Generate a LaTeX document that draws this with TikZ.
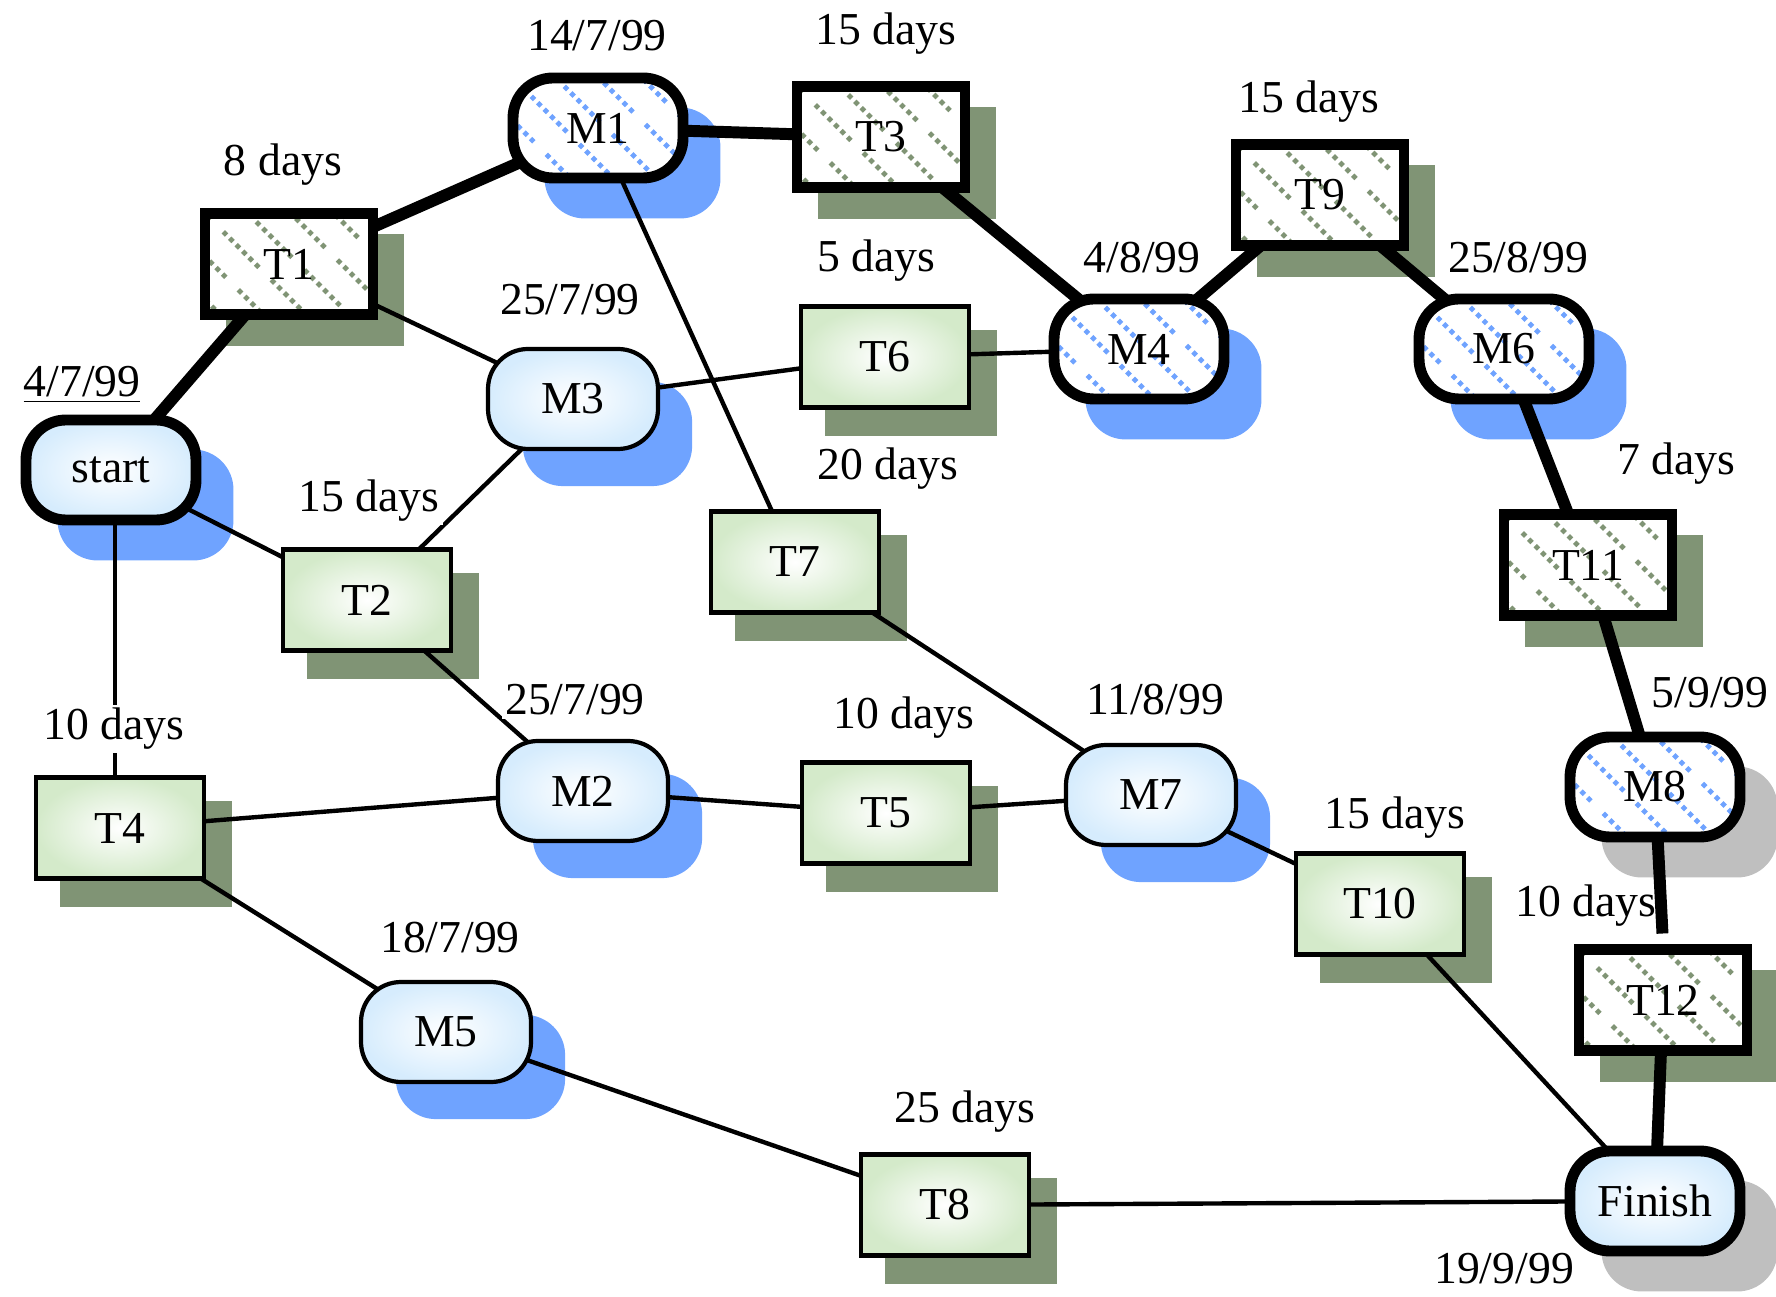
\documentclass[tikz,border=0pt]{standalone}
\usepackage{fontspec}
\setmainfont{Liberation Serif}
\definecolor{shadowblue}{RGB}{111,163,255}
\definecolor{shadowgreen}{RGB}{128,148,117}
\definecolor{shadowgray}{RGB}{191,191,191}
\definecolor{mileblue}{RGB}{214,236,253}
\definecolor{taskgreen}{RGB}{212,234,202}
\pgfdeclarelayer{background}
\pgfsetlayers{background,main}
\begin{document}
\begin{tikzpicture}[font=\fontsize{13}{15}\selectfont,
    box/.style={draw, line width=1.2pt, minimum width=1.68cm, minimum height=1.01cm, inner sep=0pt},
    rbox/.style={box, minimum width=1.70cm, minimum height=1.0cm, rounded corners=0.4cm},
    hatch/.style={fill=white, line width=3.1pt, path picture={
        \foreach \k in {-3,...,4}
          \draw[#1, line width=1.35pt, dash phase={(\k+3)*4pt},
            dash pattern=on 1.35pt off 1.25pt on 1.35pt off 1.25pt on 1.35pt off 1.25pt on 1.35pt off 1.25pt on 1.35pt off 1.25pt on 1.35pt off 5pt]
            ([xshift=\k*0.43cm]path picture bounding box.north west) -- ++(1.3,-1.3);}},
    task/.style={box, inner color=white, outer color=taskgreen},
    mile/.style={rbox, inner color=white, outer color=mileblue},
    ctask/.style={box, hatch=shadowgreen},
    cmile/.style={rbox, hatch=shadowblue},
    lab/.style={inner sep=1pt, fill=white},
    link/.style={line width=1.25pt},
    cpath/.style={line width=3.4pt}]
\useasboundingbox (0,0) rectangle (17.76,12.96);

\foreach \n/\x/\y in {T2/3.67/6.96, T4/1.20/4.68, T5/8.86/4.83, T6/8.85/9.39, T7/7.95/7.34, T8/9.45/0.91, T10/13.80/3.92}
  \node[task] (\n) at (\x,\y) {\n};
\foreach \n/\x/\y in {T1/2.89/10.32, T3/8.81/11.59, T9/13.20/11.01, T11/15.88/7.31, T12/16.63/2.96}
  \node[ctask] (\n) at (\x,\y) {\n};
\foreach \n/\x/\y in {M2/5.83/5.05, M3/5.73/8.97, M5/4.46/2.64, M7/11.51/5.01}
  \node[mile] (\n) at (\x,\y) {\n};
\foreach \n/\x/\y in {M1/5.98/11.68, M4/11.39/9.47, M6/15.04/9.47, M8/16.55/5.09}
  \node[cmile] (\n) at (\x,\y) {\n};
\node[mile, line width=3.1pt] (start) at (1.11,8.26) {start};
\node[mile, line width=3.1pt] (Finish) at (16.55,0.95) {Finish};

\node[lab] (dateM1) at (5.97,12.60) {14/7/99};
\node[lab] (dateM3) at (5.70,9.96) {25/7/99};
\node[lab] (dateM4) at (11.42,10.38) {4/8/99};
\node[lab] (dateM6) at (15.18,10.38) {25/8/99};
\node[lab] (dateM2) at (5.75,5.96) {25/7/99};
\node[lab] (dateM7) at (11.55,5.96) {11/8/99};
\node[lab] (dateM8) at (17.10,6.03) {5/9/99};
\node[lab] (dateM5) at (4.50,3.58) {18/7/99};
\node[lab] (datestart) at (0.82,9.11) {\underline{4/7/99}};
\node[lab] (dateFinish) at (15.04,0.27) {19/9/99};
\node[lab] (durT1) at (2.83,11.31) {8 days};
\node[lab] (durT3) at (8.86,12.62) {15 days};
\node[lab] (durT9) at (13.09,11.94) {15 days};
\node[lab] (durT6) at (8.76,10.35) {5 days};
\node[lab] (durT2) at (3.69,7.95) {15 days};
\node[lab] (durT7) at (8.88,8.27) {20 days};
\node[lab] (durT11) at (16.76,8.32) {7 days};
\node[lab] (durT4) at (1.14,5.67) {10 days};
\node[lab] (durT5) at (9.04,5.78) {10 days};
\node[lab] (durT10) at (13.95,4.78) {15 days};
\node[lab, fill=none] (durT12) at (15.86,3.90) {10 days};
\node[lab] (durT8) at (9.65,1.84) {25 days};

\begin{pgfonlayer}{background}
  \foreach \n in {T1,T2,T3,T4,T5,T6,T7,T8,T9,T10,T11,T12}
    \fill[shadowgreen] ([shift={(0.26,-0.26)}]\n.south west) rectangle ([shift={(0.26,-0.26)}]\n.north east);
  \foreach \n in {start,M1,M2,M3,M4,M5,M6,M7}
    \fill[shadowblue, rounded corners=0.4cm] ([shift={(0.37,-0.35)}]\n.south west) rectangle ([shift={(0.32,-0.35)}]\n.north east);
  \foreach \n in {M8,Finish}
    \fill[shadowgray, rounded corners=0.4cm] ([shift={(0.37,-0.35)}]\n.south west) rectangle ([shift={(0.32,-0.35)}]\n.north east);

  \foreach \a/\b in {start/T1, T1/M1, M1/T3, T3/M4, M4/T9, T9/M6, M6/T11, T11/M8, T12/Finish}
    \draw[cpath] (\a.center) -- (\b.center);
  \draw[cpath, shorten >=3pt] (M8.center) -- (T12.north);
  \foreach \a/\b in {T1/M3, start/T2, T2/M3, T2/M2, M1/T7, M3/T6, T6/M4, T7/M7, T4/M2, M2/T5, T5/M7, M7/T10, T10/Finish, T4/M5, M5/T8, T8/Finish}
    \draw[link] (\a.center) -- (\b.center);
  \draw[link] ([xshift=0.04cm]start.center) -- ([xshift=0.04cm]start.center |- T4.north);
\end{pgfonlayer}
\end{tikzpicture}
\end{document}
